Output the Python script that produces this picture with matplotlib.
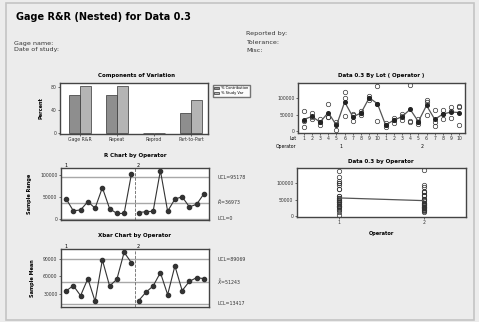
import matplotlib
matplotlib.use("Agg")
import matplotlib.pyplot as plt
from matplotlib.patches import Rectangle

# components of variation
components = ["Gage R&R", "Repeat", "Reprod", "Part-to-Part"]
pct_contribution = [66, 66, 0, 34]
pct_study_var = [81, 81, 0, 58]

# ranges and means per lot (operator 1 then operator 2)
ranges_op1 = [45500, 18000, 20000, 39000, 24000, 71000, 23000, 12000, 12000, 101500]
ranges_op2 = [14000, 16000, 17000, 110000, 17000, 45000, 50000, 27000, 33000, 57000]
means_op1 = [35400, 44500, 27500, 56300, 17900, 88000, 43900, 55200, 100900, 83400]
means_op2 = [19000, 33200, 43900, 66500, 29200, 77800, 36000, 51800, 58000, 56300]
r_ucl, r_bar, r_lcl = 95178, 36973, 0
x_ucl, x_bar, x_lcl = 89069, 51243, 13417

# three readings per lot
lots_op1 = [[14000, 32000, 60000], [36000, 44000, 54000], [18000, 27000, 38000],
            [43000, 44000, 82000], [4000, 21000, 28000], [47000, 99000, 118000],
            [30000, 48000, 53000], [49000, 55000, 61000], [95000, 100000, 107000],
            [32000, 82000, 135000]]
lots_op2 = [[12000, 19000, 26000], [25000, 34000, 41000], [35000, 45000, 52000],
            [28000, 32000, 138000], [21000, 29000, 38000], [50000, 88000, 95000],
            [15000, 28000, 65000], [38000, 52000, 65000], [40000, 61000, 73000],
            [20000, 72000, 77000]]
lot_labels = [str(i) for i in range(1, 11)]
operators = ["1", "2"]

W, H = 479, 322
fig = plt.figure(figsize=(W / 100, H / 100), dpi=100)
fig.patch.set_facecolor("#ececec")
fig.patches.append(Rectangle((6 / W, 2 / H), 468 / W, 317 / H, transform=fig.transFigure,
                             fill=False, edgecolor="#c4c4c4", linewidth=1.2))

def box(l, t, r, b):
    return [l / W, 1 - b / H, (r - l) / W, (b - t) / H]

def ftext(x, y, s, **kw):
    fig.text(x / W, 1 - y / H, s, **kw)

def style(ax):
    ax.set_facecolor("white")
    for sp in ax.spines.values():
        sp.set_color("#444444")
        sp.set_linewidth(1.0)
    ax.tick_params(labelsize=3.3, length=1.5, width=0.5, pad=1, colors="#333333")

ftext(16, 17, "Gage R&R (Nested) for Data 0.3", fontsize=7, fontweight="bold", va="center")
ftext(14, 43, "Gage name:", fontsize=4.6, va="center", color="#333333")
ftext(14, 50, "Date of study:", fontsize=4.6, va="center", color="#333333")
ftext(246, 33, "Reported by:", fontsize=4.6, va="center", color="#333333")
ftext(246, 43, "Tolerance:", fontsize=4.6, va="center", color="#333333")
ftext(246, 50, "Misc:", fontsize=4.6, va="center", color="#333333")

tfont = dict(fontsize=4, fontweight="bold", ha="center", va="center")

# Components of Variation
ax = fig.add_axes(box(60, 83, 208, 134))
style(ax)
xs = list(range(len(components)))
ax.bar([x - 0.15 for x in xs], pct_contribution, width=0.3, color="#8e8e8e",
       edgecolor="#333333", linewidth=0.5, label="% Contribution")
ax.bar([x + 0.15 for x in xs], pct_study_var, width=0.3, color="#b4b4b4",
       edgecolor="#333333", linewidth=0.5, label="% Study Var")
ax.set_xlim(-0.54, 3.46)
ax.set_ylim(-2, 87)
ax.set_yticks([0, 40, 80])
ax.set_xticks(xs)
ax.set_xticklabels(components)
ax.set_ylabel("Percent", fontsize=3.6, fontweight="bold", labelpad=5)
ax.legend(loc="upper left", bbox_to_anchor=(1.02, 1.0), fontsize=2.6, frameon=True,
          fancybox=False, edgecolor="#555555", handlelength=1.2, handleheight=0.8,
          borderpad=0.4, labelspacing=0.3)
ftext(136, 76, "Components of Variation", **tfont)

# R chart
def control_chart(pos, vals1, vals2, ucl, cl, lcl, ylim, yticks, labels, ylabel, title, title_y):
    ax = fig.add_axes(box(*pos))
    style(ax)
    x1 = list(range(1, 11))
    x2 = list(range(11, 21))
    for v in (ucl, cl, lcl):
        ax.axhline(v, color="#a8a8a8", linewidth=1.0, zorder=1)
    ax.plot(x1, vals1, color="#333333", marker="o", markersize=3, linewidth=0.8)
    ax.plot(x2, vals2, color="#333333", marker="o", markersize=3, linewidth=0.8)
    ax.axvline(10.5, color="#666666", linestyle="--", linewidth=0.6)
    ax.set_xlim(0.3, 20.7)
    ax.set_ylim(*ylim)
    ax.set_yticks(yticks)
    ax.set_xticks([])
    ax.set_ylabel(ylabel, fontsize=3.6, fontweight="bold", labelpad=6)
    for v, lab in zip((ucl, cl, lcl), labels):
        ax.annotate(lab, xy=(1, v), xycoords=("axes fraction", "data"), xytext=(6, 0),
                    textcoords="offset points", fontsize=3.4, va="center", color="#333333",
                    annotation_clip=False)
    ax.text(1, ylim[1], operators[0], fontsize=3.5, ha="center", va="bottom")
    ax.text(11, ylim[1], operators[1], fontsize=3.5, ha="center", va="bottom")
    ftext(135, title_y, title, **tfont)
    return ax

control_chart((61, 168, 209, 220), ranges_op1, ranges_op2, r_ucl, r_bar, r_lcl,
              (-3000, 116000), [0, 50000, 100000],
              ["UCL=95178", r"$\bar{R}$=36973", "LCL=0"], "Sample Range",
              "R Chart by Operator", 156)
control_chart((61, 249, 209, 307), means_op1, means_op2, x_ucl, x_bar, x_lcl,
              (8300, 106500), [30000, 60000, 90000],
              ["UCL=89069", r"$\bar{\bar{X}}$=51243", "LCL=13417"], "Sample Mean",
              "Xbar Chart by Operator", 236)

# Data by Lot (Operator)
ax = fig.add_axes(box(298, 83, 465, 133))
style(ax)
all_lots = lots_op1 + lots_op2
for i, vals in enumerate(all_lots):
    ax.plot([i + 1] * len(vals), vals, linestyle="none", marker="o", markersize=3.2,
            markerfacecolor="none", markeredgecolor="#333333", markeredgewidth=0.5)
lot_means = [sum(v) / len(v) for v in all_lots]
ax.plot(range(1, 21), lot_means, color="#555555", linewidth=0.9, marker="o",
        markersize=2.6, markerfacecolor="#222222", markeredgecolor="#222222")
ax.set_xlim(0.3, 20.7)
ax.set_ylim(-5000, 145000)
ax.set_yticks([0, 50000, 100000])
ax.set_xticks(range(1, 21))
ax.set_xticklabels(lot_labels + lot_labels)
ax.text(-0.01, -0.11, "Lot", transform=ax.transAxes, fontsize=3.3, ha="right", va="center")
ax.text(-0.01, -0.27, "Operator", transform=ax.transAxes, fontsize=3.3, ha="right", va="center")
ax.text(5.5, -0.27, operators[0], transform=ax.get_xaxis_transform(), fontsize=3.3, ha="center", va="center")
ax.text(15.5, -0.27, operators[1], transform=ax.get_xaxis_transform(), fontsize=3.3, ha="center", va="center")
ftext(381, 76, "Data 0.3 By Lot ( Operator )", **tfont)

# Data by Operator
ax = fig.add_axes(box(297, 168, 466, 217))
style(ax)
op_data = [sum(lots_op1, []), sum(lots_op2, [])]
for i, vals in enumerate(op_data):
    ax.plot([i + 1] * len(vals), vals, linestyle="none", marker="o", markersize=3.2,
            markerfacecolor="none", markeredgecolor="#333333", markeredgewidth=0.5)
op_means = [sum(v) / len(v) for v in op_data]
ax.plot([1, 2], op_means, color="#555555", linewidth=0.9)
ax.set_xlim(0.5, 2.5)
ax.set_ylim(-2000, 145000)
ax.set_yticks([0, 50000, 100000])
ax.set_xticks([1, 2])
ax.set_xticklabels(operators)
ax.set_xlabel("Operator", fontsize=3.6, fontweight="bold", labelpad=4)
ftext(381, 162, "Data 0.3 by Operator", **tfont)

fig.savefig("out.png", dpi=100, facecolor=fig.get_facecolor())
